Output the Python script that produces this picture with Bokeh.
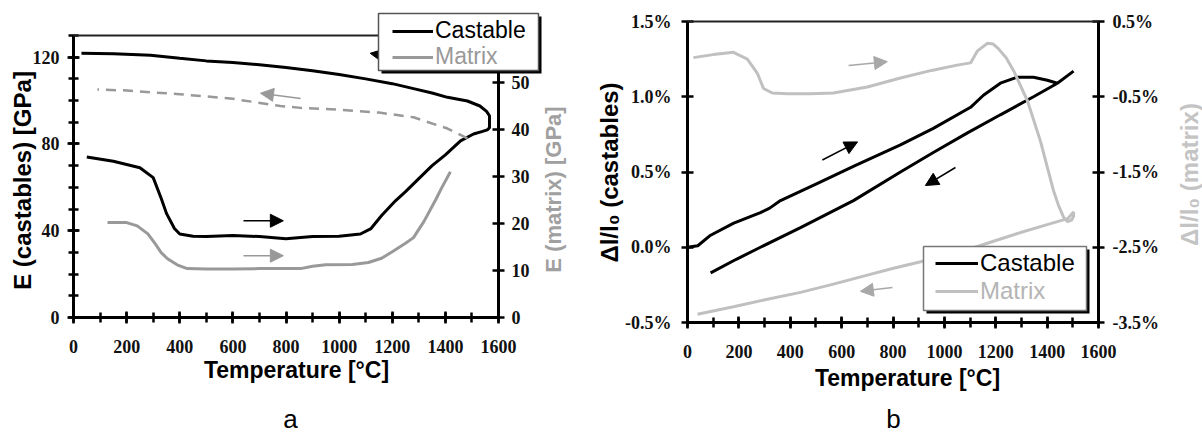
import math
from bokeh.plotting import figure
from bokeh.models import (Range1d, LinearAxis, FixedTicker, PrintfTickFormatter, Arrow,
                          NormalHead, Legend, LegendItem, BoxAnnotation, Label)
from bokeh.layouts import row
from bokeh.embed import file_html
from bokeh.resources import INLINE

# ---------------- data: chart a (Young's modulus) ----------------
a_cast_heat_t = [50, 150, 250, 300, 330, 350, 380, 400, 450, 500, 600, 700, 800, 900, 1000,
                 1080, 1120, 1160, 1212, 1250, 1300, 1350, 1400, 1457, 1506, 1540, 1558, 1566]
a_cast_heat_e = [74, 72, 69, 64.5, 55, 48, 41, 38.5, 37.5, 37.3, 37.8, 37.3, 36.3, 37.3, 37.5,
                 38.5, 41, 47, 53.8, 58, 64, 70, 75, 81.4, 84.6, 85.8, 86.5, 87.5]
a_cast_cool_t = [1566, 1555, 1530, 1483, 1408, 1350, 1280, 1200, 1100, 1000, 900, 800, 700,
                 600, 500, 400, 290, 150, 30]
a_cast_cool_e = [93, 95, 97.5, 99.8, 101.5, 103.5, 105.5, 107.8, 110, 112, 113.8, 115.3, 116.5,
                 117.5, 118.3, 119.5, 120.9, 121.6, 121.8]
a_mat_heat_t = [128, 200, 240, 280, 310, 330, 354, 390, 428, 500, 600, 700, 779, 855, 900, 950,
                1050, 1110, 1160, 1200, 1250, 1280, 1320, 1363, 1390, 1419]
a_mat_heat_e = [20.2, 20.2, 19.5, 17.8, 15.5, 13.8, 12.5, 11.2, 10.4, 10.3, 10.3, 10.4, 10.4,
                10.4, 10.9, 11.2, 11.3, 11.7, 12.6, 14, 15.8, 17, 20.5, 25, 28, 31]
a_mat_cool_t = [1483, 1408, 1280, 1150, 1000, 855, 779, 591, 400, 200, 90]
a_mat_cool_e = [38.1, 40.2, 42.6, 43.6, 44.2, 44.6, 45, 46.6, 47.5, 48.3, 48.5]

# arrows of chart a: (x_start, y_start, x_end, y_end) on the castable axis
a_arrow_black_cool = [1271, 118.6, 1117, 121.8]
a_arrow_gray_cool = [855, 101.0, 704, 103.4]
a_arrow_black_heat = [640, 44.6, 790, 44.6]
a_arrow_gray_heat = [640, 28.5, 790, 28.5]

# ---------------- data: chart b (thermal expansion, %) ----------------
b_cast_heat_t = [0, 40, 90, 180, 284, 320, 362, 500, 650, 829, 957, 1102, 1152, 1218, 1284,
                 1347, 1401, 1440]
b_cast_heat_v = [0.0, 0.01, 0.08, 0.16, 0.23, 0.26, 0.31, 0.42, 0.54, 0.68, 0.79, 0.93, 1.01,
                 1.09, 1.13, 1.13, 1.11, 1.09]
b_cast_cool_t = [1503, 1440, 1347, 1218, 1090, 957, 829, 646, 440, 284, 190, 90]
b_cast_cool_v = [1.17, 1.09, 1.00, 0.88, 0.76, 0.63, 0.50, 0.31, 0.13, 0.0, -0.08, -0.17]
b_mat_heat_t = [23, 100, 179, 233, 272, 296, 330, 389, 480, 568, 700, 829, 950, 1050, 1102,
                1129, 1168, 1190, 1207, 1240, 1269, 1323, 1374, 1425, 1445, 1464, 1480, 1495,
                1503, 1503]
b_mat_heat_v = [0.02, 0.06, 0.09, 0.0, -0.19, -0.39, -0.45, -0.46, -0.46, -0.45, -0.37, -0.25,
                -0.15, -0.08, -0.05, 0.11, 0.21, 0.2, 0.15, 0.02, -0.15, -0.55, -1.09, -1.75,
                -1.95, -2.1, -2.16, -2.14, -2.09, -2.03]
b_mat_cool_t = [1503, 1480, 1400, 1300, 1200, 1129, 1000, 900, 802, 700, 568, 440, 311, 179, 39]
b_mat_cool_v = [-2.03, -2.12, -2.2, -2.3, -2.41, -2.49, -2.61, -2.7, -2.78, -2.87, -2.99, -3.1,
                -3.19, -3.29, -3.39]

# arrows of chart b: (x_start, y_start, x_end, y_end) on the castable axis
b_arrow_gray_heat = [627, 1.207, 778, 1.233]
b_arrow_black_heat = [525, 0.58, 662, 0.70]
b_arrow_black_cool = [1043, 0.53, 926, 0.41]
b_arrow_gray_cool = [798, -0.267, 673, -0.293]

# ticks
x_ticks = [0, 200, 400, 600, 800, 1000, 1200, 1400, 1600]
x_minor = list(range(0, 1601, 100))
a_left_ticks = [0, 40, 80, 120]
a_left_minor = list(range(0, 131, 10))
a_right_ticks = [0, 10, 20, 30, 40, 50]
b_left_ticks = [-0.5, 0.0, 0.5, 1.0, 1.5]
b_right_ticks = [-3.5, -2.5, -1.5, -0.5, 0.5]

# axis extents
T_MIN, T_MAX = 0.0, 1600.0
A_E = (0.0, 130.0)
A_M = (0.0, 60.0)
B_C = (-0.5, 1.5)
B_M = (-3.5, 0.5)

GRAY_A = "#999999"
GRAY_B = "#c0c0c0"
TICK_FONT = "Liberation Serif"
SANS = "Liberation Sans"
H = 434
WA, WB = 590, 612


def span_range(v0, v1, p0, p1, total):
    """Range so that value v0 sits at pixel p0 and v1 at p1 (pixels from left / bottom)."""
    s = (p1 - p0) / (v1 - v0)
    return Range1d(v0 - p0 / s, v0 + (total - p0) / s)


def style_axis(ax, label_standoff=8, label_size="18px"):
    ax.axis_line_width = 3
    ax.axis_line_color = "black"
    ax.major_tick_line_width = 2.5
    ax.minor_tick_line_width = 2.5
    ax.major_tick_line_color = "black"
    ax.minor_tick_line_color = "black"
    ax.major_tick_in = 6
    ax.major_tick_out = 6
    ax.minor_tick_in = 5
    ax.minor_tick_out = 5
    ax.major_label_text_font = TICK_FONT
    ax.major_label_text_font_style = "bold"
    ax.major_label_text_font_size = label_size
    ax.major_label_text_color = "#111111"
    ax.major_label_standoff = label_standoff


def add_top_border_box(p, y_top):
    # frame border along the top end of the castable axis (degenerate box = a line)
    p.add_layout(BoxAnnotation(left=T_MIN, right=T_MAX, bottom=y_top, top=y_top,
                               fill_alpha=0.0, line_color="#222222", line_width=2,
                               line_alpha=1.0))


def add_top_border_rule(p, y_top):
    # frame border along the top end of the castable axis (headless arrow = a rule)
    p.add_layout(Arrow(start=None, end=None, x_start=T_MIN, y_start=y_top, x_end=T_MAX,
                       y_end=y_top, line_color="#222222", line_width=2))


def add_arrow(p, a, color):
    p.add_layout(Arrow(end=NormalHead(size=13, fill_color=color, line_color=color),
                       x_start=a[0], y_start=a[1], x_end=a[2], y_end=a[3],
                       line_color=color, line_width=1.5))


def add_legend_box(p, left, right, top, bottom, border_color):
    p.add_layout(BoxAnnotation(left=left + 3, right=right + 3, top=top - 3, bottom=bottom - 3,
                               left_units="screen", right_units="screen",
                               top_units="screen", bottom_units="screen",
                               fill_color="black", fill_alpha=1.0, line_color=None))
    p.add_layout(BoxAnnotation(left=left, right=right, top=top, bottom=bottom,
                               left_units="screen", right_units="screen",
                               top_units="screen", bottom_units="screen",
                               fill_color="white", fill_alpha=1.0, line_color=border_color,
                               line_width=1.5, line_alpha=1.0))


def add_legend_item(p, label, renderer, loc, color, size, gw):
    leg = Legend(items=[LegendItem(label=label, renderers=[renderer])], location=loc,
                 padding=0, margin=0, spacing=0, border_line_color=None,
                 background_fill_alpha=0, glyph_width=gw, glyph_height=26, label_height=26,
                 label_standoff=2, label_text_font=SANS, label_text_font_size=size,
                 label_text_color=color)
    p.add_layout(leg, "center")


def add_text(p, text, x, y, size, color="black", bold=True, vertical=False):
    p.add_layout(Label(x=x, y=y, x_units="screen", y_units="screen", text=text,
                       angle=math.pi / 2 if vertical else 0,
                       text_font=SANS, text_font_size=size,
                       text_font_style="bold" if bold else "normal", text_color=color,
                       text_align="center",
                       text_baseline="middle" if vertical else "alphabetic"))


def make_figure(width, x_px, yl, yl_px, yr, yr_px):
    p = figure(width=width, height=H, output_backend="svg", toolbar_location=None,
               frame_align=False, min_border=0, min_border_left=0, min_border_right=0,
               min_border_top=0, min_border_bottom=0,
               x_range=span_range(T_MIN, T_MAX, x_px[0], x_px[1], width),
               y_range=span_range(yl[0], yl[1], H - yl_px[0], H - yl_px[1], H))
    p.extra_y_ranges = {"mat": span_range(yr[0], yr[1], H - yr_px[0], H - yr_px[1], H)}
    p.xgrid.visible = False
    p.ygrid.visible = False
    p.outline_line_color = None
    p.background_fill_color = "white"
    return p


# ================= chart a =================
# pixel geometry of chart a (x from left, y from top)
A_X_PX = (73, 498)
A_Y_PX = (317, 35)
pa = make_figure(WA, A_X_PX, A_E, A_Y_PX, A_M, A_Y_PX)

pa.xaxis.ticker = FixedTicker(ticks=x_ticks, minor_ticks=x_minor)
pa.xaxis.fixed_location = A_E[0]
pa.xaxis.bounds = (T_MIN, T_MAX)
style_axis(pa.xaxis[0], label_standoff=16)
pa.yaxis.ticker = FixedTicker(ticks=a_left_ticks, minor_ticks=a_left_minor)
pa.yaxis.fixed_location = T_MIN
pa.yaxis.bounds = A_E
style_axis(pa.yaxis[0], label_standoff=8)

ax_ra = LinearAxis(y_range_name="mat", fixed_location=T_MAX, bounds=A_M,
                   ticker=FixedTicker(ticks=a_right_ticks, minor_ticks=[]))
style_axis(ax_ra, label_standoff=7)
pa.add_layout(ax_ra, "right")

r_a_cast = pa.line(a_cast_heat_t + a_cast_cool_t, a_cast_heat_e + a_cast_cool_e,
                   line_color="black", line_width=3)
r_a_mat = pa.line(a_mat_heat_t, a_mat_heat_e, y_range_name="mat", line_color=GRAY_A,
                  line_width=3)
pa.line(a_mat_cool_t, a_mat_cool_e, y_range_name="mat", line_color=GRAY_A, line_width=2.5,
        line_dash="10 7")

add_arrow(pa, a_arrow_black_cool, "black")
add_arrow(pa, a_arrow_gray_cool, GRAY_A)
add_arrow(pa, a_arrow_black_heat, "black")
add_arrow(pa, a_arrow_gray_heat, GRAY_A)
add_top_border_rule(pa, A_E[1])

# legend (screen units from the figure's bottom-left)
add_legend_box(pa, 378, 538, H - 13, H - 70, "#555555")
add_legend_item(pa, "Castable", r_a_cast, (392, H - 44), "black", "23px", 41)
add_legend_item(pa, "Matrix", r_a_mat, (392, H - 70), GRAY_A, "23px", 41)

add_text(pa, "E (castables) [GPa]", 22, H - 180, "24px", vertical=True)
add_text(pa, "E (matrix) [GPa]", 553, H - 189, "22px", color="#a0a0a0", vertical=True)
add_text(pa, "Temperature [°C]", 296, H - 369, "23px")
add_text(pa, "a", 290, H - 418, "26px", bold=False)

# ================= chart b =================
OFF_B = WA  # page x where chart b starts
B_X_PX = (687 - OFF_B, 1098 - OFF_B)
B_Y_PX = (322, 21)
pb = make_figure(WB, B_X_PX, B_C, B_Y_PX, B_M, B_Y_PX)

pb.xaxis.ticker = FixedTicker(ticks=x_ticks, minor_ticks=x_minor)
pb.xaxis.fixed_location = B_C[0]
pb.xaxis.bounds = (T_MIN, T_MAX)
style_axis(pb.xaxis[0], label_standoff=16)
pb.yaxis.ticker = FixedTicker(ticks=b_left_ticks, minor_ticks=[])
pb.yaxis.formatter = PrintfTickFormatter(format="%.1f%%")
pb.yaxis.fixed_location = T_MIN
pb.yaxis.bounds = B_C
style_axis(pb.yaxis[0], label_standoff=10)
ax_rb = LinearAxis(y_range_name="mat", fixed_location=T_MAX, bounds=B_M,
                   ticker=FixedTicker(ticks=b_right_ticks, minor_ticks=[]),
                   formatter=PrintfTickFormatter(format="%.1f%%"))
style_axis(ax_rb, label_standoff=8)
pb.add_layout(ax_rb, "right")

r_b_cast = pb.line(b_cast_heat_t + b_cast_cool_t, b_cast_heat_v + b_cast_cool_v,
                   line_color="black", line_width=3)
r_b_mat = pb.line(b_mat_heat_t + b_mat_cool_t, b_mat_heat_v + b_mat_cool_v, y_range_name="mat",
                  line_color=GRAY_B, line_width=3)
add_top_border_box(pb, B_C[1])

add_arrow(pb, b_arrow_gray_heat, "#a8a8a8")
add_arrow(pb, b_arrow_black_heat, "black")
add_arrow(pb, b_arrow_black_cool, "black")
add_arrow(pb, b_arrow_gray_cool, "#a8a8a8")

add_legend_box(pb, 923 - OFF_B, 1086 - OFF_B, H - 246, H - 310, "#777777")
add_legend_item(pb, "Castable", r_b_cast, (935 - OFF_B, H - 277), "black", "24px", 43)
add_legend_item(pb, "Matrix", r_b_mat, (935 - OFF_B, H - 305), "#b4b4b4", "24px", 43)

add_text(pb, "Δl/l₀ (castables)", 609 - OFF_B, H - 172, "24px", vertical=True)
add_text(pb, "Δl/l₀ (matrix)", 1189 - OFF_B, H - 174, "24px", color="#c4c4c4", vertical=True)
add_text(pb, "Temperature [°C]", 907 - OFF_B, H - 377, "23px")
add_text(pb, "b", 893 - OFF_B, H - 418, "26px", bold=False)

layout = row(pa, pb)
open("out.html", "w").write(file_html(layout, INLINE))
